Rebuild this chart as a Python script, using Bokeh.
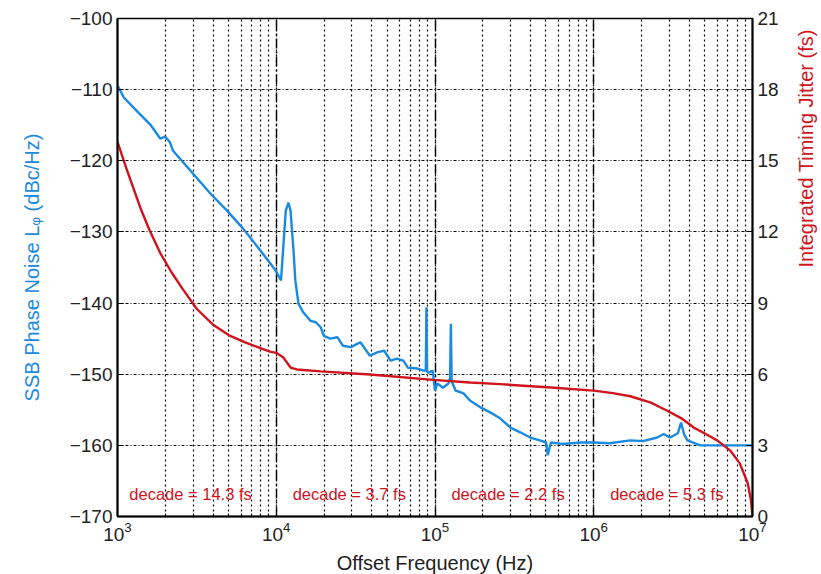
import math
from bokeh.plotting import figure
from bokeh.models import LinearAxis, Range1d, FixedTicker, Label, ColumnDataSource
from bokeh.embed import file_html
from bokeh.resources import INLINE

# ---- data ----
noise_log10_freq = [3.00, 3.04, 3.13, 3.21, 3.27, 3.30, 3.33, 3.35, 3.46, 3.585, 3.69, 3.79, 3.90,
                    3.995, 4.03, 4.06, 4.077, 4.09, 4.11, 4.12, 4.14, 4.17, 4.216, 4.25, 4.28, 4.30,
                    4.34, 4.385, 4.42, 4.47, 4.53, 4.59, 4.64, 4.68, 4.72, 4.76, 4.80, 4.83, 4.89,
                    4.93, 4.942, 4.946, 4.95, 4.96, 4.985, 5.0, 5.015, 5.05, 5.085, 5.095, 5.10,
                    5.105, 5.13, 5.18, 5.22, 5.29, 5.35, 5.41, 5.475, 5.54, 5.60, 5.66, 5.70, 5.71,
                    5.73, 5.80, 5.92, 6.00, 6.10, 6.23, 6.31, 6.40, 6.44, 6.48, 6.53, 6.55, 6.57,
                    6.59, 6.67, 6.80, 7.00]
noise_dbc = [-109.4, -111.1, -113.2, -115.0, -116.9, -116.6, -117.4, -118.6, -121.4, -124.6, -127.0,
             -129.5, -132.6, -135.4, -136.8, -127.0, -125.9, -127.0, -133.0, -136.8, -140.1, -141.3,
             -142.5, -142.7, -143.4, -144.6, -145.0, -144.8, -146.0, -146.2, -145.5, -147.4, -146.9,
             -146.7, -148.1, -147.8, -148.1, -149.1, -149.2, -149.5, -149.5, -140.6, -149.6, -149.8,
             -149.5, -152.3, -151.3, -151.9, -151.3, -150.5, -142.9, -151.0, -152.3, -152.7, -153.7,
             -154.7, -155.4, -156.2, -157.5, -158.2, -158.9, -159.3, -159.6, -161.4, -159.6, -159.8,
             -159.6, -159.6, -159.7, -159.3, -159.4, -158.9, -158.4, -158.9, -158.3, -156.8, -158.5,
             -159.3, -160.0, -160.0, -160.0]

jitter_log10_freq = [3.00, 3.06, 3.145, 3.20, 3.27, 3.34, 3.41, 3.50, 3.60, 3.70, 3.80, 3.90,
                     3.96, 4.00, 4.045, 4.09, 4.13, 4.28, 4.59, 4.99, 5.22, 5.41, 5.73, 6.00,
                     6.12, 6.23, 6.36, 6.46, 6.55, 6.63, 6.70, 6.78, 6.86, 6.92, 6.97, 6.99, 7.00]
jitter_fs = [15.8, 14.6, 13.0, 12.1, 11.1, 10.3, 9.6, 8.75, 8.1, 7.65, 7.35, 7.1,
             6.95, 6.9, 6.7, 6.28, 6.2, 6.12, 5.99, 5.76, 5.65, 5.58, 5.44, 5.31,
             5.2, 5.07, 4.8, 4.47, 4.15, 3.75, 3.5, 3.2, 2.78, 2.24, 1.4, 0.7, 0.0]

decade_log10_start = [3, 4, 5, 6]
decade_texts = ["decade = 14.3 fs", "decade = 3.7 fs", "decade = 2.2 fs", "decade = 5.3 fs"]

left_ticks = [-170, -160, -150, -140, -130, -120, -110, -100]
left_tick_labels = ["\u2212170", "\u2212160", "\u2212150", "\u2212140", "\u2212130", "\u2212120",
                    "\u2212110", "\u2212100"]
right_ticks = [0, 3, 6, 9, 12, 15, 18, 21]

BLUE = "#1a8ae0"
RED = "#d0141e"
FONT = "Liberation Sans"

p = figure(x_axis_type="log", x_range=(1e3, 1e7), y_range=(-170, -100),
           frame_width=635, frame_height=498,
           min_border_left=117, min_border_right=61, min_border_top=18, min_border_bottom=50,
           output_backend="svg", toolbar_location=None)
p.extra_y_ranges = {"jit": Range1d(0, 21)}

noise_src = ColumnDataSource(dict(f=[10 ** v for v in noise_log10_freq], y=noise_dbc))
jit_src = ColumnDataSource(dict(f=[10 ** v for v in jitter_log10_freq], y=jitter_fs))

p.line("f", "y", source=noise_src, line_color=BLUE, line_width=2.4)
p.line("f", "y", source=jit_src, line_color=RED, line_width=2.4, y_range_name="jit")

for d, t in zip(decade_log10_start, decade_texts):
    p.add_layout(Label(x=10 ** (d + 0.46), y=-166.8, text=t, text_align="center",
                       text_baseline="middle", text_color=RED, text_font=FONT,
                       text_font_size="16.5px"))

# axes
p.yaxis.ticker = FixedTicker(ticks=left_ticks)
p.yaxis.major_label_overrides = {t: l for t, l in zip(left_ticks, left_tick_labels)}
p.yaxis.axis_label = "SSB Phase Noise L\u1d69 (dBc/Hz)"
p.yaxis.axis_label_text_color = BLUE

ra = LinearAxis(y_range_name="jit", ticker=FixedTicker(ticks=right_ticks),
                axis_label="Integrated Timing Jitter (fs)")
ra.axis_label_text_color = RED
ra.axis_label_orientation = math.pi / 2
p.add_layout(ra, "right")

p.xaxis.axis_label = "Offset Frequency (Hz)"
p.xaxis.axis_label_text_color = "#222222"

for ax in [p.xaxis[0], p.yaxis[0], ra]:
    ax.axis_line_color = "black"
    ax.axis_line_width = 2
    ax.major_tick_in = 6
    ax.major_tick_out = 0
    ax.minor_tick_in = 3
    ax.minor_tick_out = 0
    ax.major_label_text_font = FONT
    ax.major_label_text_font_size = "19px"
    ax.major_label_text_color = "#222222"
    ax.axis_label_text_font = FONT
    ax.axis_label_text_font_size = "20px"
    ax.axis_label_text_font_style = "normal"
    ax.major_label_standoff = 5
    ax.axis_label_standoff = 8
p.yaxis.axis_label_standoff = 24
p.yaxis.minor_tick_line_color = None
ra.minor_tick_line_color = None

p.outline_line_color = "black"
p.outline_line_width = 1.5

# grids
p.ygrid.grid_line_color = "black"
p.ygrid.grid_line_dash = "3 2 1 2"
p.ygrid.grid_line_width = 1.2
p.xgrid.grid_line_color = "black"
p.xgrid.grid_line_dash = "10 3 2 3"
p.xgrid.grid_line_width = 1.4
p.xgrid.minor_grid_line_color = "black"
p.xgrid.minor_grid_line_dash = "2 3"
p.xgrid.minor_grid_line_width = 1.2

p.background_fill_color = "white"
p.border_fill_color = "white"

open("out.html", "w").write(file_html(p, INLINE))
